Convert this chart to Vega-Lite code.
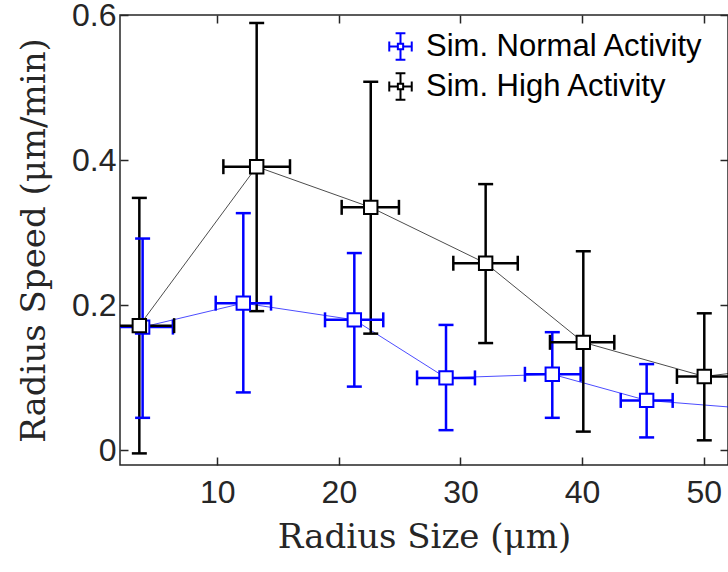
{
  "$schema": "https://vega.github.io/schema/vega-lite/v6.json",
  "width": 608,
  "height": 450,
  "autosize": {"type": "none"},
  "padding": {"left": 120, "top": 15, "right": 0, "bottom": 107},
  "background": "white",
  "config": {
    "view": {"stroke": "#262626", "strokeWidth": 1.5},
    "axis": {
      "domain": false,
      "grid": false,
      "tickColor": "#262626",
      "tickWidth": 1.5,
      "tickSize": -8,
      "labelFont": "Liberation Sans",
      "labelFontSize": 32,
      "labelColor": "#262626",
      "titleFont": "DejaVu Serif",
      "titleFontSize": 34,
      "titleFontWeight": "normal",
      "titleColor": "#262626"
    }
  },
  "datasets": {
    "pts": [
      {"series": "Sim. Normal Activity", "x": 3.86, "y": 0.170, "ylo": 0.045, "yhi": 0.292, "xlo": 1.4, "xhi": 6.35},
      {"series": "Sim. Normal Activity", "x": 12.14, "y": 0.203, "ylo": 0.080, "yhi": 0.327, "xlo": 9.87, "xhi": 14.42},
      {"series": "Sim. Normal Activity", "x": 21.27, "y": 0.180, "ylo": 0.088, "yhi": 0.272, "xlo": 18.86, "xhi": 23.65},
      {"series": "Sim. Normal Activity", "x": 28.81, "y": 0.100, "ylo": 0.028, "yhi": 0.173, "xlo": 26.43, "xhi": 31.19},
      {"series": "Sim. Normal Activity", "x": 37.55, "y": 0.105, "ylo": 0.045, "yhi": 0.163, "xlo": 35.3, "xhi": 39.88},
      {"series": "Sim. Normal Activity", "x": 45.31, "y": 0.069, "ylo": 0.018, "yhi": 0.119, "xlo": 43.18, "xhi": 47.45},
      {"series": "Sim. Normal Activity", "x": 55.0, "y": 0.056, "ylo": 0.020, "yhi": 0.095, "xlo": 52.8, "xhi": 57.2},
      {"series": "Sim. High Activity", "x": 3.59, "y": 0.172, "ylo": -0.004, "yhi": 0.348, "xlo": 0.8, "xhi": 6.45},
      {"series": "Sim. High Activity", "x": 13.24, "y": 0.391, "ylo": 0.192, "yhi": 0.589, "xlo": 10.5, "xhi": 15.98},
      {"series": "Sim. High Activity", "x": 22.62, "y": 0.335, "ylo": 0.161, "yhi": 0.508, "xlo": 20.23, "xhi": 24.94},
      {"series": "Sim. High Activity", "x": 32.07, "y": 0.258, "ylo": 0.148, "yhi": 0.367, "xlo": 29.41, "xhi": 34.71},
      {"series": "Sim. High Activity", "x": 40.1, "y": 0.149, "ylo": 0.026, "yhi": 0.2745, "xlo": 37.36, "xhi": 42.65},
      {"series": "Sim. High Activity", "x": 50.05, "y": 0.102, "ylo": 0.014, "yhi": 0.189, "xlo": 47.8, "xhi": 52.3},
      {"series": "Sim. High Activity", "x": 59.5, "y": 0.121, "ylo": 0.040, "yhi": 0.200, "xlo": 57.0, "xhi": 62.0}
    ]
  },
  "data": {"name": "pts"},
  "layer": [
    {
      "layer": [
        {
          "mark": {"type": "line", "strokeWidth": 1, "opacity": 0.7, "clip": true},
          "encoding": {
            "x": {"field": "x", "type": "quantitative", "title": "Radius Size (μm)", "scale": {"domain": [2, 52], "nice": false, "zero": false}, "axis": {"values": [10, 20, 30, 40, 50], "labelPadding": 20, "titlePadding": 12}},
            "y": {"field": "y", "type": "quantitative", "title": "Radius Speed (μm/min)", "scale": {"domain": [-0.02, 0.6], "nice": false, "zero": false}, "axis": {"values": [0, 0.2, 0.4, 0.6], "format": "~g", "labelPadding": 12, "titlePadding": 20}},
            "color": {
              "field": "series", "type": "nominal",
              "scale": {"domain": ["Sim. Normal Activity", "Sim. High Activity"], "range": ["#0000ff", "#000000"]},
              "legend": {
                "title": null,
                "orient": "none",
                "legendX": 265,
                "legendY": 16,
                "padding": 0,
                "labelFont": "Liberation Sans",
                "labelFontSize": 31,
                "labelColor": "#000000",
                "labelLimit": 500,
                "labelOffset": 10,
                "rowPadding": 5,
                "symbolSize": 700,
                "symbolStrokeWidth": 2,
                "symbolOpacity": 1,
                "symbolType": "M0,-1L0,-0.2M0,0.2L0,1M-0.37,-1L0.37,-1M-0.37,1L0.37,1M-0.85,0L-0.2,0M0.2,0L0.85,0M-0.85,-0.37L-0.85,0.37M0.85,-0.37L0.85,0.37M-0.2,-0.2L0.2,-0.2L0.2,0.2L-0.2,0.2ZM-0.2,-0.2L-0.2,0.2L0.2,0.2L0.2,-0.2Z"
              }
            },
            "order": {"field": "x", "type": "quantitative"}
          }
        },
        {
          "mark": {"type": "rule", "strokeWidth": 2.5, "clip": true},
          "encoding": {
            "x": {"field": "x", "type": "quantitative", "title": "Radius Size (μm)"},
            "y": {"field": "ylo", "type": "quantitative", "title": "Radius Speed (μm/min)"},
            "y2": {"field": "yhi"},
            "color": {"field": "series", "type": "nominal"}
          }
        },
        {
          "mark": {"type": "rule", "strokeWidth": 2.5, "clip": true},
          "encoding": {
            "x": {"field": "xlo", "type": "quantitative", "title": "Radius Size (μm)"},
            "x2": {"field": "xhi"},
            "y": {"field": "y", "type": "quantitative", "title": "Radius Speed (μm/min)"},
            "color": {"field": "series", "type": "nominal"}
          }
        },
        {
          "transform": [{"fold": ["ylo", "yhi"], "as": ["cap", "capval"]}],
          "mark": {"type": "tick", "orient": "horizontal", "size": 15, "thickness": 2.5, "opacity": 1, "clip": true},
          "encoding": {
            "x": {"field": "x", "type": "quantitative", "title": "Radius Size (μm)"},
            "y": {"field": "capval", "type": "quantitative", "title": "Radius Speed (μm/min)"},
            "color": {"field": "series", "type": "nominal"}
          }
        },
        {
          "transform": [{"fold": ["xlo", "xhi"], "as": ["cap", "capval"]}],
          "mark": {"type": "tick", "orient": "vertical", "size": 15, "thickness": 2.5, "opacity": 1, "clip": true},
          "encoding": {
            "x": {"field": "capval", "type": "quantitative", "title": "Radius Size (μm)"},
            "y": {"field": "y", "type": "quantitative", "title": "Radius Speed (μm/min)"},
            "color": {"field": "series", "type": "nominal"}
          }
        },
        {
          "mark": {"type": "point", "shape": "square", "filled": false, "fill": "white", "fillOpacity": 1, "opacity": 1, "strokeWidth": 2, "size": 180, "clip": true},
          "encoding": {
            "x": {"field": "x", "type": "quantitative", "title": "Radius Size (μm)"},
            "y": {"field": "y", "type": "quantitative", "title": "Radius Speed (μm/min)"},
            "color": {"field": "series", "type": "nominal"}
          }
        }
      ]
    },
    {
      "mark": {"type": "point", "opacity": 0, "clip": true},
      "encoding": {
        "x": {"field": "x", "type": "quantitative", "axis": {"orient": "top", "values": [10, 20, 30, 40, 50], "labels": false, "title": null}},
        "y": {"field": "y", "type": "quantitative", "axis": {"orient": "right", "values": [0, 0.2, 0.4, 0.6], "labels": false, "title": null}}
      }
    }
  ],
  "resolve": {"axis": {"x": "independent", "y": "independent"}}
}
